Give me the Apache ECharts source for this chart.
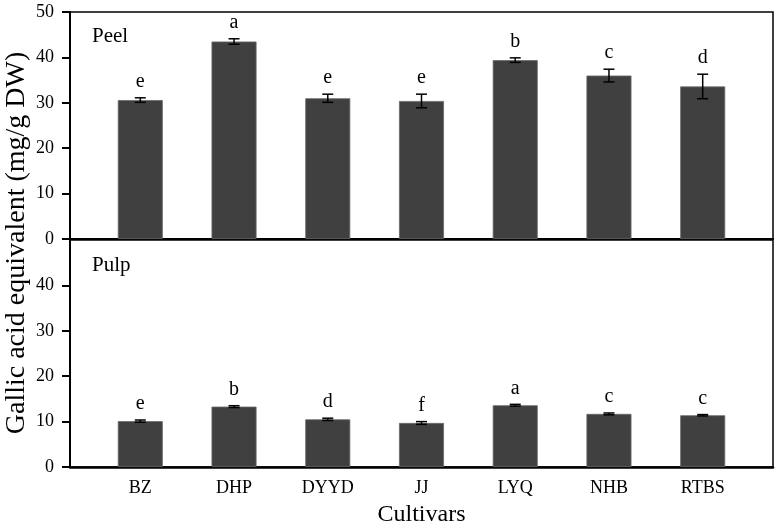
<!DOCTYPE html>
<html>
<head>
<meta charset="utf-8">
<script src="https://cdn.jsdelivr.net/npm/echarts@6/dist/echarts.min.js"></script>
<style>html,body{margin:0;padding:0;background:#fff}#c{width:780px;height:528px}</style>
</head>
<body>
<div id="c"></div>
<script>
const categories = ['BZ','DHP','DYYD','JJ','LYQ','NHB','RTBS'];
const peelMean = [30.6, 43.5, 31.0, 30.4, 39.4, 36.0, 33.6];
const peelSD = [0.5, 0.6, 0.9, 1.5, 0.5, 1.4, 2.7];
const peelLetters = ['e','a','e','e','b','c','d'];
const pulpMean = [10.1, 13.3, 10.5, 9.7, 13.6, 11.7, 11.4];
const pulpSD = [0.25, 0.2, 0.25, 0.3, 0.2, 0.2, 0.15];
const pulpLetters = ['e','b','d','f','a','c','c'];
const yTicks = [0, 10, 20, 30, 40, 50];

const FONT = '"Liberation Serif", "Times New Roman", serif';
const positions = categories.map((c, i) => i + 1);

function barData(means) { return means.map((m, i) => [positions[i], m]); }
function errData(means, sds) { return means.map((m, i) => [positions[i], m, sds[i]]); }

function makeErr(letters) {
  return function (params, api) {
    const x = api.value(0), m = api.value(1), s = api.value(2);
    const top = api.coord([x, m + s]);
    const bot = api.coord([x, m - s]);
    const hw = 5.5;
    const ls = { stroke: '#000', lineWidth: 1.5 };
    return {
      type: 'group',
      children: [
        { type: 'line', shape: { x1: top[0], y1: top[1], x2: bot[0], y2: bot[1] }, style: ls },
        { type: 'line', shape: { x1: top[0] - hw, y1: top[1], x2: top[0] + hw, y2: top[1] }, style: ls },
        { type: 'line', shape: { x1: bot[0] - hw, y1: bot[1], x2: bot[0] + hw, y2: bot[1] }, style: ls },
        { type: 'text', style: { text: letters[params.dataIndex], x: top[0], y: top[1] - 6,
            align: 'center', verticalAlign: 'bottom', font: '20px ' + FONT, fill: '#000' } }
      ]
    };
  };
}

const gridCommon = { left: 70, right: 7, height: 227, show: true, borderColor: '#000', borderWidth: 1.5, containLabel: false };

function yAxisCfg(idx, hideTop) {
  const vals = hideTop ? yTicks.filter(v => v !== 50) : yTicks;
  return {
    type: 'value', gridIndex: idx, min: 0, max: 50, interval: 10,
    splitLine: { show: false },
    axisLine: { show: true, lineStyle: { color: '#000', width: 2 } },
    axisTick: { show: true, length: 8, inside: false, lineStyle: { color: '#000', width: 2 },
      customValues: vals },
    axisLabel: { color: '#000', fontFamily: FONT, fontSize: 18, margin: 16,
      customValues: vals }
  };
}

const option = {
  animation: false,
  backgroundColor: '#fff',
  grid: [
    Object.assign({ top: 12 }, gridCommon),
    Object.assign({ top: 240 }, gridCommon)
  ],
  xAxis: [
    { type: 'value', gridIndex: 0, min: 0.25, max: 7.75, splitLine: { show: false },
      axisLine: { show: true, onZero: false, lineStyle: { color: '#000', width: 2 } },
      axisTick: { show: false }, axisLabel: { show: false } },
    { type: 'value', gridIndex: 1, min: 0.25, max: 7.75, splitLine: { show: false },
      axisLine: { show: true, onZero: false, lineStyle: { color: '#000', width: 2.5 } },
      axisTick: { show: false },
      axisLabel: { show: true, customValues: positions, color: '#000', fontFamily: FONT, fontSize: 18, margin: 12,
        formatter: v => categories[Math.round(v) - 1] || '' },
      name: 'Cultivars', nameLocation: 'middle', nameGap: 36,
      nameTextStyle: { color: '#000', fontFamily: FONT, fontSize: 24 } }
  ],
  yAxis: [yAxisCfg(0, false), yAxisCfg(1, true)],
  graphic: [
    { type: 'text', left: 92, top: 26, style: { text: 'Peel', font: '21px ' + FONT, fill: '#000' } },
    { type: 'text', left: 92, top: 255, style: { text: 'Pulp', font: '21px ' + FONT, fill: '#000' } },
    { type: 'text', x: 17, y: 243, rotation: Math.PI / 2,
      style: { text: 'Gallic acid equivalent (mg/g DW)', font: '28px ' + FONT, fill: '#000',
        align: 'center', verticalAlign: 'middle' } }
  ],
  series: [
    { type: 'bar', xAxisIndex: 0, yAxisIndex: 0, data: barData(peelMean), barWidth: 45,
      itemStyle: { color: '#404040', borderColor: '#6a6a6a', borderWidth: 0.8 } },
    { type: 'bar', xAxisIndex: 1, yAxisIndex: 1, data: barData(pulpMean), barWidth: 45,
      itemStyle: { color: '#404040', borderColor: '#6a6a6a', borderWidth: 0.8 } },
    { type: 'custom', xAxisIndex: 0, yAxisIndex: 0, data: errData(peelMean, peelSD),
      renderItem: makeErr(peelLetters), z: 5 },
    { type: 'custom', xAxisIndex: 1, yAxisIndex: 1, data: errData(pulpMean, pulpSD),
      renderItem: makeErr(pulpLetters), z: 5 }
  ]
};

echarts.init(document.getElementById('c'), null, { renderer: 'canvas' }).setOption(option);
</script>
</body>
</html>
